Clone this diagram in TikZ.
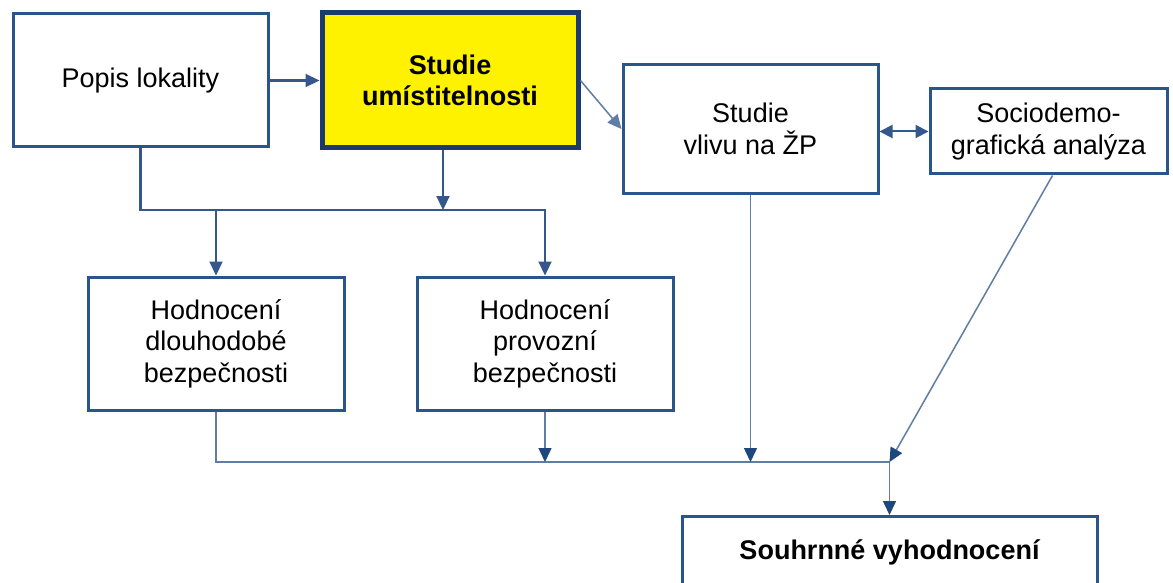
\documentclass[tikz,border=0pt]{standalone}
\usepackage{fontspec}
\setmainfont{Liberation Sans}
\usetikzlibrary{arrows.meta,calc}
\definecolor{boxblue}{RGB}{40,86,138}
\definecolor{navy}{RGB}{28,58,108}
\definecolor{connblue}{RGB}{52,88,140}
\definecolor{thinblue}{RGB}{95,125,165}
\definecolor{tipblue}{RGB}{30,72,125}
\begin{document}
\begin{tikzpicture}[x=1pt,y=-1pt,
  every node/.style={font=\fontsize{27}{31.5}\selectfont, align=center, inner sep=0pt},
  stepbox/.style={draw=boxblue, line width=3pt, fill=white, rectangle},
  keybox/.style={draw=navy, line width=5pt, fill=yellow, rectangle, font=\fontsize{27}{31.5}\selectfont\bfseries},
  tip/.style={-{Triangle[length=14pt,width=13pt]}},
  heavy/.style={draw=connblue, line width=2.2pt, tip, color=connblue},
  light/.style={draw=thinblue, line width=1.5pt},
  lighttip/.style={light, -{Triangle[length=14pt,width=13pt,color=tipblue,fill=tipblue]}},
]
\clip (0,0) rectangle (1173,583);
\fill[white] (0,0) rectangle (1173,583);

\node[stepbox, minimum width=255pt, minimum height=133pt] (popis) at (140.5,80.5) {Popis lokality};
\node[keybox, minimum width=256pt, minimum height=135pt] (studie) at (450,80.5) {Studie\\umístitelnosti};
\node[stepbox, minimum width=255pt, minimum height=128pt] (vliv) at (750.5,129) {Studie\\vlivu na ŽP};
\node[stepbox, minimum width=237pt, minimum height=85pt] (socio) at (1048.5,131.5) {Sociodemo-\\grafická analýza};
\node[stepbox, minimum width=256pt, minimum height=133pt] (dlouh) at (216,343.5) {Hodnocení\\dlouhodobé\\bezpečnosti};
\node[stepbox, minimum width=256pt, minimum height=133pt] (provoz) at (545,343.5) {Hodnocení\\provozní\\bezpečnosti};
\node[stepbox, minimum width=415pt, minimum height=90pt, anchor=north, text height=19pt, text depth=24pt, font=\fontsize{27}{31.5}\selectfont\bfseries] (souhrn) at (889.5,515) {Souhrnné vyhodnocení};

\coordinate (bus1) at (0,210);
\coordinate (bus2) at (0,462);
\coordinate (junc) at (souhrn.north |- bus2);

% upper connectors
\draw[heavy] (popis) -- (studie);
\draw[heavy] (popis.south) -- (popis.south |- bus1) -| (provoz.north);
\draw[heavy] ([xshift=-7pt]studie.south) -- ([xshift=-7pt]studie.south |- bus1);
\draw[heavy] (dlouh.north |- bus1) -- (dlouh.north);
\draw[light, tip, color=thinblue] (studie.east) -- (vliv.west);
\draw[draw=connblue, line width=2pt, {Triangle[length=13pt,width=13pt]}-{Triangle[length=13pt,width=13pt]}, color=connblue] (socio.west -| vliv.east) -- (socio.west);

% lower connectors
\draw[light] (dlouh.south) -- (dlouh.south |- bus2) -- (junc);
\draw[lighttip] (provoz.south) -- (provoz.south |- bus2);
\draw[lighttip] (vliv.south) -- (vliv.south |- bus2);
\draw[lighttip] ([xshift=4pt]socio.south) -- (junc);
\draw[lighttip] (junc) -- (souhrn.north);
\end{tikzpicture}
\end{document}
